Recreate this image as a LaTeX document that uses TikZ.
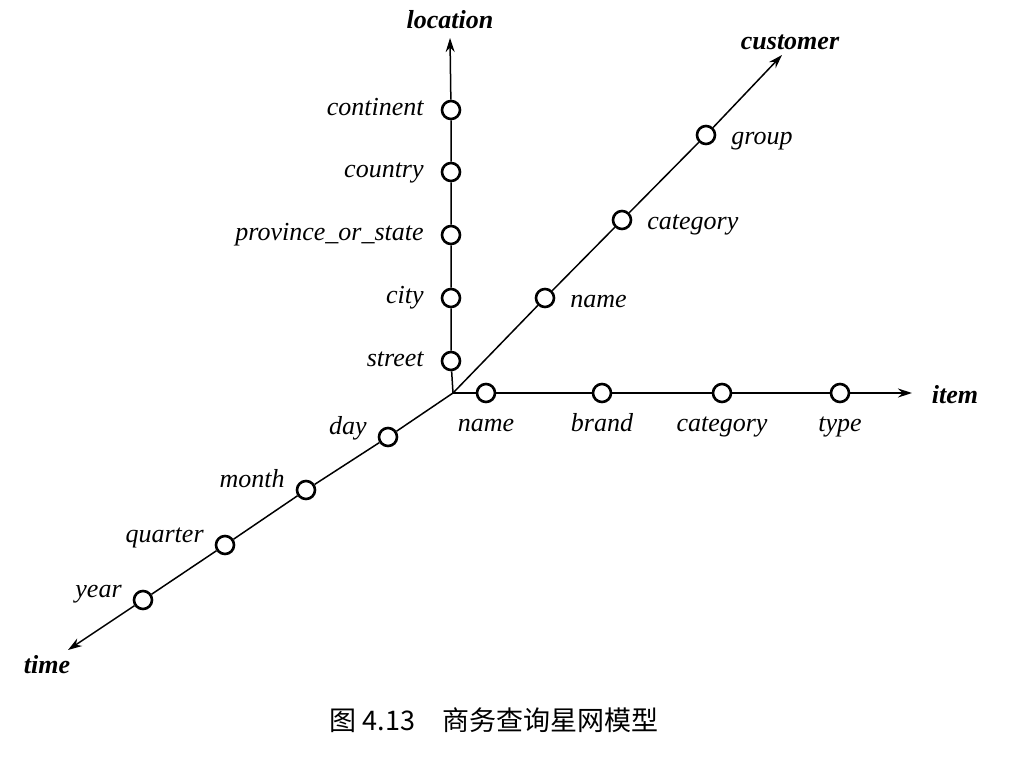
\documentclass[tikz,border=0pt]{standalone}
\usepackage{fontspec}
\setmainfont{Liberation Serif}
\newfontfamily\cjk{Noto Sans CJK SC}
\usepackage{tikz}
\usetikzlibrary{positioning,arrows.meta}

\begin{document}
\begin{tikzpicture}[x=0.5pt, y=-0.5pt, >={Stealth[length=7pt,width=4.5pt]}]
\tikzstyle{every node}=[font=\fontsize{13}{15}\selectfont\itshape];
\tikzstyle{lvl}=[draw, circle, line width=1.3pt, fill=white, minimum size=9pt, inner sep=0pt];
\tikzstyle{lbl}=[text height=1.5ex, text depth=0.35ex];
\tikzstyle{dim}=[font=\fontsize{13}{15}\selectfont\bfseries\itshape];
\tikzstyle{axis}=[line width=0.75pt];
\useasboundingbox (0,0) rectangle (1024,756);

\coordinate (o) at (453,393);
\coordinate (loctip) at (450,38);
\coordinate (custip) at (782,55);
\coordinate (itemtip) at (912,393);
\coordinate (timetip) at (68,650);

% location
\foreach \n/\y/\t in {street/361/street, city/298/city, prov/235/province\_or\_state, country/172/country, cont/110/continent}
{
\node[lvl] (\n) at (451,\y) {};
\node[lbl, left=5pt of \n] (\n-l) {\t};
}
% customer
\foreach \n/\x/\y/\t in {cname/545/298/name, ccat/622/220/category, cgroup/706/135/group}
{
\node[lvl] (\n) at (\x,\y) {};
\node[lbl, right=4pt of \n, yshift=-2pt] (\n-l) {\t};
}
% item
\foreach \n/\x/\t in {iname/486/name, ibrand/602/brand, icat/722/category, itype/840/type}
{
\node[lvl] (\n) at (\x,393) {};
\node[lbl, below=3.5pt of \n] (\n-l) {\t};
}
% time
\foreach \n/\x/\y/\t in {day/388/437/day, month/306/490/month, quarter/225/545/quarter, year/143/600/year}
{
\node[lvl] (\n) at (\x,\y) {};
\node[lbl, left=2pt of \n, yshift=4pt] (\n-l) {\t};
}

\draw[axis] (o) -- (street) (street) -- (city) (city) -- (prov) (prov) -- (country) (country) -- (cont);
\draw[axis,->] (cont) -- (loctip);
\draw[axis] (o) -- (cname) (cname) -- (ccat) (ccat) -- (cgroup);
\draw[axis,->] (cgroup) -- (custip);
\draw[axis] (o) -- (iname) (iname) -- (ibrand) (ibrand) -- (icat) (icat) -- (itype);
\draw[axis,->] (itype) -- (itemtip);
\draw[axis] (o) -- (day) (day) -- (month) (month) -- (quarter) (quarter) -- (year);
\draw[axis,->] (year) -- (timetip);

\node[dim] (location) at (450,20) {location};
\node[dim] (customer) at (790,42) {customer};
\node[dim] (item) at (955,395) {item};
\node[dim] (time) at (47,665) {time};

\node[font=\cjk\fontsize{13.5}{16}\selectfont] (caption) at (494,720) {图 4.13\quad 商务查询星网模型};
\end{tikzpicture}
\end{document}
